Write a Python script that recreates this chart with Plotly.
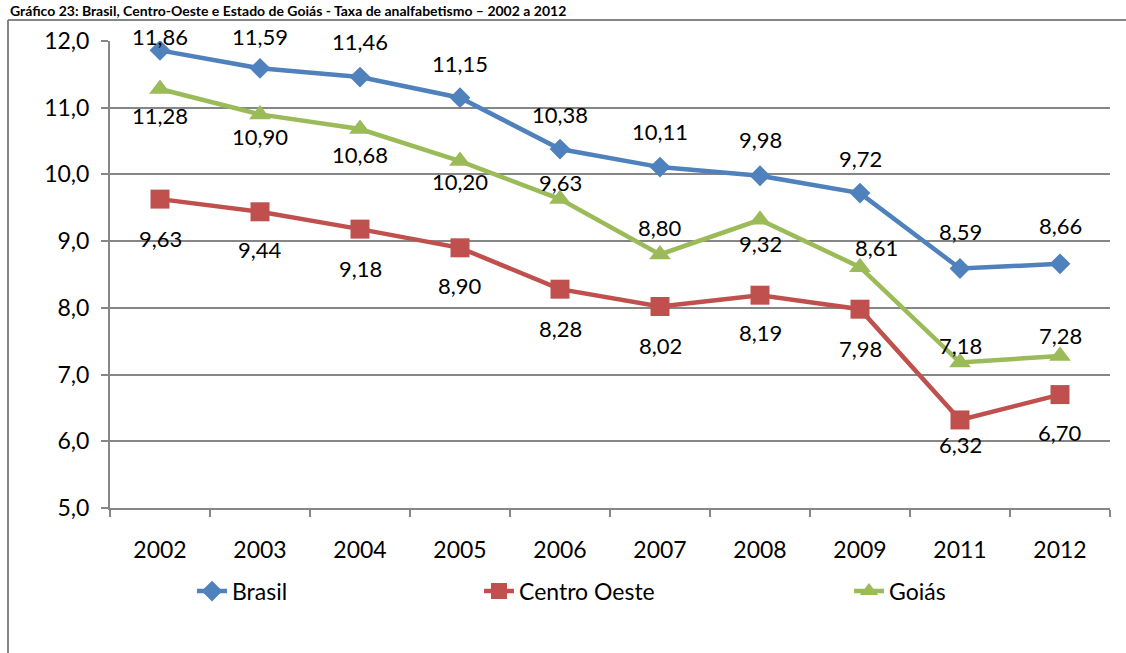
import plotly.graph_objects as go

anos = ['2002', '2003', '2004', '2005', '2006', '2007', '2008', '2009', '2011', '2012']
brasil = [11.86, 11.59, 11.46, 11.15, 10.38, 10.11, 9.98, 9.72, 8.59, 8.66]
centro_oeste = [9.63, 9.44, 9.18, 8.90, 8.28, 8.02, 8.19, 7.98, 6.32, 6.70]
goias = [11.28, 10.90, 10.68, 10.20, 9.63, 8.80, 9.32, 8.61, 7.18, 7.28]

# deslocamento vertical (px) dos rótulos de dados, como no original
desl_brasil = [14, 32, 36, 34, 35, 36, 36, 35, 37, 38]
desl_co = [-39, -38, -39, -38, -39, -39, -37, -39, -25, -38]
desl_goias = [-26, -22, -25, -20, 17, 27, -24, 20, 17, 20]
desl_x_goias = [0, 0, 0, 0, 0, 0, 0, 16, 0, 0]

FONT = 'Lato, Calibri, sans-serif'
CINZA = '#868686'

series = [
    ('Brasil', brasil, '#4F81BD', 'diamond', 16, 'legend', desl_brasil, None),
    ('Centro Oeste', centro_oeste, '#C0504D', 'square', 19, 'legend2', desl_co, None),
    ('Goiás', goias, '#9BBB59', 'triangle-up', 19, 'legend3', desl_goias, desl_x_goias),
]

fig = go.Figure()
for nome, vals, cor, simb, tam, leg, dy, dx in series:
    fig.add_trace(go.Scatter(
        x=anos, y=vals, name=nome, mode='lines+markers', legend=leg,
        line=dict(color=cor, width=4.5),
        marker=dict(symbol=simb, size=tam, color=cor)))
    for i, v in enumerate(vals):
        # posição no eixo categórico pelo índice
        fig.add_annotation(
            x=i, y=v, xref='x', yref='y',
            text=f'{v:.2f}'.replace('.', ','), showarrow=False,
            yshift=dy[i], xshift=dx[i] if dx else 0,
            font=dict(size=22, family=FONT, color='black'))

# moldura externa do gráfico
fig.add_shape(type='line', xref='paper', yref='paper',
              x0=-0.102, x1=1.03, y0=1.045, y1=1.045,
              line=dict(color=CINZA, width=2))
fig.add_shape(type='line', xref='paper', yref='paper',
              x0=-0.102, x1=-0.102, y0=1.045, y1=-0.33,
              line=dict(color=CINZA, width=2))

fig.add_annotation(
    text='<b>Gráfico 23: Brasil, Centro-Oeste e Estado de Goiás - Taxa de analfabetismo – 2002 a 2012</b>',
    xref='paper', yref='paper', x=-0.102, y=1.0878, xanchor='left', yanchor='top',
    showarrow=False, font=dict(size=14, family=FONT, color='black'))

fig.update_xaxes(
    type='category', range=[-0.5, 9.5], showgrid=False,
    showline=True, linecolor=CINZA, linewidth=2,
    ticks='outside', tickson='boundaries', ticklen=7, tickcolor=CINZA, tickwidth=2,
    ticklabelstandoff=20, tickfont=dict(size=23, color='black'))
fig.update_yaxes(
    range=[5, 12], dtick=1, tickformat='.1f',
    showgrid=True, gridcolor=CINZA, gridwidth=2,
    showline=True, linecolor=CINZA, linewidth=2,
    ticks='outside', ticklen=7, tickcolor=CINZA, tickwidth=2,
    ticklabelstandoff=7, tickfont=dict(size=23, color='black'), zeroline=False)

leg_comum = dict(y=-0.178, yanchor='middle', xanchor='left', font=dict(size=23),
                 bgcolor='rgba(0,0,0,0)')
fig.update_layout(
    width=1126, height=653, separators=', ',
    margin=dict(l=110, r=16, t=41, b=145),
    paper_bgcolor='white', plot_bgcolor='white',
    font=dict(family=FONT, color='black'),
    showlegend=True,
    legend=dict(x=0.082, **leg_comum),
    legend2=dict(x=0.369, **leg_comum),
    legend3=dict(x=0.739, **leg_comum),
)

fig.write_html('out.html', config={'displayModeBar': False},
               post_script="document.body.style.margin='0';")
